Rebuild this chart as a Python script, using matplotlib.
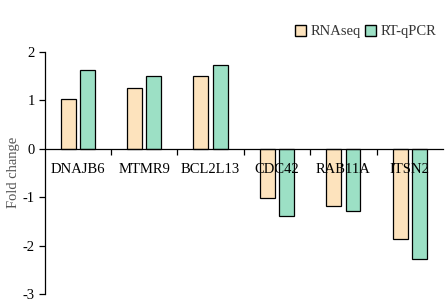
import matplotlib
matplotlib.use("Agg")
import matplotlib.pyplot as plt
import numpy as np
from matplotlib.patches import Patch

genes = ["DNAJB6", "MTMR9", "BCL2L13", "CDC42", "RAB11A", "ITSN2"]
rnaseq = [1.02, 1.25, 1.49, -1.01, -1.19, -1.86]
rtqpcr = [1.62, 1.49, 1.72, -1.39, -1.29, -2.28]
yticks = [-3, -2, -1, 0, 1, 2]

plt.rcParams['font.family'] = ['Liberation Serif', 'DejaVu Serif']

fig = plt.figure(figsize=(4.47, 3.06), dpi=100)
ax = fig.add_axes([44.5/447, 1-294/306, (443-44.5)/447, (294-51.7)/306])

x = np.arange(len(genes)) + 0.5
w = 0.225
c1 = "#FDE3BD"
c2 = "#9CE0C5"
ax.bar(x - 0.145, rnaseq, w, color=c1, edgecolor="black", linewidth=0.9)
ax.bar(x + 0.145, rtqpcr, w, color=c2, edgecolor="black", linewidth=0.9)

ax.set_xlim(0, len(genes))
ax.set_ylim(-3, 2)
ax.set_yticks(yticks)
ax.set_yticklabels([str(v) for v in yticks], fontsize=10.5)
ax.tick_params(axis='y', direction='out', length=4, width=0.9, pad=3)

for s in ['top', 'right']:
    ax.spines[s].set_visible(False)
ax.spines['bottom'].set_position(('data', 0))
ax.spines['left'].set_linewidth(0.9)
ax.spines['bottom'].set_linewidth(0.9)

ax.set_xticks(np.arange(1, len(genes)))
ax.set_xticklabels([])
ax.tick_params(axis='x', which='major', direction='out', length=4, width=0.9)
ax.set_xticks(x, minor=True)
ax.set_xticklabels(genes, minor=True, fontsize=10.5)
ax.tick_params(axis='x', which='minor', length=0, pad=10)

ax.set_ylabel("Fold change", fontsize=10.5, color="#555555")
ax.yaxis.set_label_coords(-0.062, 0.5)

handles = [Patch(facecolor=c1, edgecolor="black", label="RNAseq"),
           Patch(facecolor=c2, edgecolor="black", label="RT-qPCR")]
fig.legend(handles=handles, loc='upper right', bbox_to_anchor=(436/447, 1-25/306),
           ncol=2, frameon=False, fontsize=10.5, handlelength=0.75, handleheight=0.75,
           handletextpad=0.3, columnspacing=0.3, borderpad=0, borderaxespad=0,
           labelcolor="#333333")

fig.savefig("out.png", dpi=100)
